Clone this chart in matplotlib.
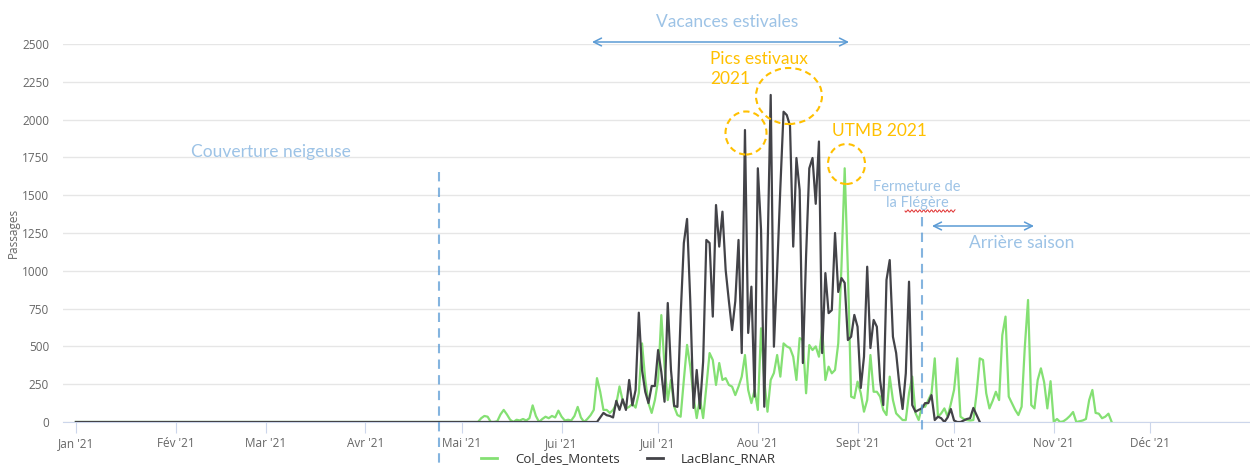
import numpy as np
import pandas as pd
import matplotlib
matplotlib.use("Agg")
import matplotlib.pyplot as plt
from matplotlib.patches import Ellipse
from matplotlib.lines import Line2D

W, H = 1250, 468

# ---- data (daily passages) --------------------------------------------------------
MONTETS_START = "2021-01-01"
MONTETS = [0] * 126 + [
    25, 40, 35, 0, 0, 5, 50, 80, 50, 15,
    0, 15, 10, 20, 10, 25, 110, 40, 0, 20,
    35, 25, 40, 30, 75, 35, 10, 15, 10, 40,
    100, 30, 0, 20, 45, 80, 290, 200, 80, 80,
    60, 80, 120, 235, 140, 90, 100, 120, 95, 190,
    520, 280, 125, 60, 145, 278, 707, 366, 145, 278,
    101, 46, 35, 278, 510, 366, 168, 26, 156, 26,
    234, 456, 410, 245, 390, 278, 290, 245, 234, 178,
    234, 300, 443, 212, 125, 212, 80, 620, 278, 68,
    278, 324, 443, 300, 520, 500, 489, 432, 278, 555,
    542, 190, 509, 476, 500, 432, 620, 278, 366, 322,
    344, 520, 1027, 1678, 1000, 168, 158, 267, 191, 68,
    145, 443, 200, 200, 168, 79, 46, 300, 145, 57,
    35, 13, 13, 190, 300, 60, 13, 101, 101, 145,
    190, 421, 35, 57, 90, 35, 120, 212, 421, 35,
    20, 13, 10, 13, 190, 421, 410, 190, 90, 140,
    200, 145, 575, 697, 168, 124, 80, 46, 101, 498,
    807, 112, 90, 278, 355, 264, 90, 270, 0, 20,
    0, 5, 20, 40, 66, 0, 5, 10, 20, 145,
    212, 60, 55, 25, 35, 55, 0,
]

LACBLANC_START = "2021-01-01"
LACBLANC = [0] * 163 + [
    30, 60, 45, 40, 30, 140, 80, 150, 80,
    278, 110, 212, 723, 344, 200, 125, 238, 238, 476,
    330, 134, 787, 344, 106, 100, 700, 1184, 1343, 800,
    93, 344, 90, 400, 1204, 1184, 697, 1435, 1160, 1391,
    1005, 800, 608, 800, 1204, 456, 1931, 589, 895, 168,
    1678, 1270, 101, 1100, 2163, 498, 1000, 1550, 2052, 2030,
    1960, 1160, 1746, 1534, 390, 1100, 1678, 1746, 1443, 1855,
    456, 985, 720, 740, 1250, 860, 952, 920, 542, 564,
    708, 630, 225, 432, 1027, 489, 675, 630, 278, 112,
    940, 1071, 564, 456, 245, 86, 322, 928, 112, 68,
    80, 90, 125, 125, 178, 13, 35, 25, 0, 30,
    86, 10, 0, 0, 10, 20, 25, 93, 46, 0,
]

MONTH_LABELS = ["Jan '21", "Fév '21", "Mar '21", "Avr '21", "Mai '21", "Jui '21",
                "Juil '21", "Aou '21", "Sept '21", "Oct '21", "Nov '21", "Déc '21"]
Y_TICKS = list(range(0, 2501, 250))

SNOW_LINE = "2021-04-24"
FLEGERE_LINE = "2021-09-21"

GREEN = "#84e073"
DARK = "#434348"
BLUE_TXT = "#9dc3e6"
BLUE_LINE = "#5b9bd5"
ORANGE = "#ffc000"
GREY = "#666666"


def px(x, y):
    """image pixel (from top-left) -> figure fraction"""
    return x / W, 1 - y / H


plt.rcParams["font.family"] = ["Open Sans", "DejaVu Sans"]

fig = plt.figure(figsize=(W / 100, H / 100), dpi=100)
ax = fig.add_axes([63 / W, 46 / H, (W - 63) / W, 378 / H])

d_mont = pd.date_range(MONTETS_START, periods=len(MONTETS), freq="D")
d_lac = pd.date_range(LACBLANC_START, periods=len(LACBLANC), freq="D")
ax.plot(d_mont, MONTETS, color=GREEN, lw=1.6, zorder=3)
ax.plot(d_lac, LACBLANC, color=DARK, lw=1.6, zorder=4)

year0 = pd.Timestamp("2021-01-01")
ax.set_xlim(year0 - pd.Timedelta(days=4), year0 + pd.Timedelta(days=365))
ax.set_ylim(0, 2500)

months = pd.date_range("2021-01-01", periods=12, freq="MS")
ax.set_xticks(months)
ax.set_xticklabels(MONTH_LABELS)
ax.set_yticks(Y_TICKS)
ax.set_yticklabels([str(v) for v in Y_TICKS])

for s in ["top", "right", "left"]:
    ax.spines[s].set_visible(False)
ax.spines["bottom"].set_color("#ccd6eb")
ax.yaxis.grid(True, color="#e6e6e6", lw=1)
ax.set_axisbelow(True)
ax.tick_params(axis="x", length=8, color="#ccd6eb", labelcolor=GREY, labelsize=8.5, pad=3)
ax.tick_params(axis="y", length=0, labelcolor=GREY, labelsize=8.5, pad=10)

fig.text(*px(13, 233), "Passages", rotation=90, ha="center", va="center",
         color=GREY, fontsize=8.5)

# dashed event lines
xt = ax.get_xaxis_transform()
ax.plot([pd.Timestamp(SNOW_LINE)] * 2, [0.661, -0.114], transform=xt, clip_on=False,
        color=BLUE_LINE, alpha=0.75, lw=1.5, ls=(0, (4.5, 3)), zorder=5)
ax.plot([pd.Timestamp(FLEGERE_LINE)] * 2, [0.542, -0.026], transform=xt, clip_on=False,
        color=BLUE_LINE, alpha=0.75, lw=1.5, ls=(0, (4.5, 3)), zorder=5)

# annotations
ann = dict(family=["Lato", "DejaVu Sans"], ha="center", va="center")
fig.text(*px(271, 152), "Couverture neigeuse", color=BLUE_TXT, fontsize=12.5, **ann)
fig.text(*px(727, 22), "Vacances estivales", color=BLUE_TXT, fontsize=12.5, **ann)
fig.text(*px(1022, 243), "Arrière saison", color=BLUE_TXT, fontsize=12.5, **ann)
fig.text(*px(917, 195), "Fermeture de\nla Flégère", color=BLUE_TXT, fontsize=10.5,
         linespacing=1.25, **ann)
fig.text(*px(710, 69), "Pics estivaux\n2021", color=ORANGE, fontsize=12.5,
         linespacing=1.3, family=["Lato", "DejaVu Sans"], ha="left", va="center")
fig.text(*px(832, 131), "UTMB 2021", color=ORANGE, fontsize=12.5,
         family=["Lato", "DejaVu Sans"], ha="left", va="center")

# spell-check squiggle under "Flégère"
wx = np.linspace(905, 955, 60)
wy = 211 + 1.2 * np.sin((wx - 905) * 1.6)
fig.add_artist(Line2D(wx / W, 1 - wy / H, color="#e03030", lw=0.7, transform=fig.transFigure))

for x1, x2, y in [(592, 849, 42), (932, 1034, 226)]:
    ax.annotate("", xy=(x2, H - y), xytext=(x1, H - y), xycoords="figure pixels",
                textcoords="figure pixels",
                arrowprops=dict(arrowstyle="<->", color=BLUE_LINE, lw=1.1,
                                mutation_scale=14, shrinkA=0, shrinkB=0))

for cx, cy, rx, ry in [(746, 133, 20.5, 21.5), (789, 96, 33, 28), (846.5, 164, 18.5, 20)]:
    fig.add_artist(Ellipse(px(cx, cy), 2 * rx / W, 2 * ry / H, transform=fig.transFigure,
                           fill=False, ec=ORANGE, lw=1.5, ls=(0, (3, 2)), zorder=6))

handles = [Line2D([], [], color=GREEN, lw=2), Line2D([], [], color=DARK, lw=2)]
fig.legend(handles, ["Col_des_Montets", "LacBlanc_RNAR"], loc="center",
           bbox_to_anchor=(0.503, 1 - 459 / H), ncol=2, frameon=False, fontsize=9.5,
           labelcolor="#333333", handlelength=1.2, columnspacing=2.0, handletextpad=1.4,
           borderpad=0.1)

fig.savefig("out.png", dpi=100)
